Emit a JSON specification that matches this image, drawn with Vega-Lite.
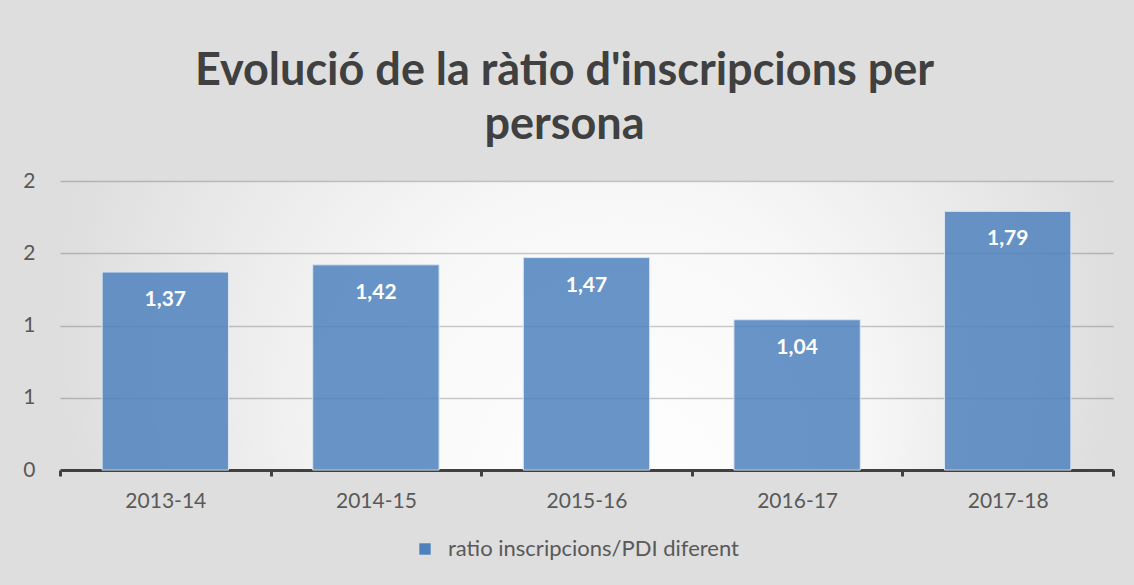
{
  "$schema": "https://vega.github.io/schema/vega-lite/v6.json",
  "width": 1053,
  "height": 289,
  "autosize": {"type": "none"},
  "padding": {"left": 60, "top": 181, "right": 21, "bottom": 115},
  "background": "#dedede",
  "title": {
    "text": ["Evolució de la ràtio d'inscripcions per", "persona"],
    "font": "Lato",
    "fontSize": 45,
    "fontWeight": "bold",
    "color": "#404040",
    "lineHeight": 54,
    "anchor": "middle",
    "frame": "group",
    "baseline": "bottom",
    "offset": 32,
    "dx": -22,
    "dy": 55
  },
  "data": {
    "values": [
      {"curs": "2013-14", "ratio": 1.37, "serie": "ratio inscripcions/PDI diferent"},
      {"curs": "2014-15", "ratio": 1.42, "serie": "ratio inscripcions/PDI diferent"},
      {"curs": "2015-16", "ratio": 1.47, "serie": "ratio inscripcions/PDI diferent"},
      {"curs": "2016-17", "ratio": 1.04, "serie": "ratio inscripcions/PDI diferent"},
      {"curs": "2017-18", "ratio": 1.79, "serie": "ratio inscripcions/PDI diferent"}
    ]
  },
  "encoding": {
    "x": {
      "field": "curs",
      "type": "nominal",
      "sort": null,
      "scale": {"paddingInner": 0, "paddingOuter": 0},
      "axis": {
        "title": null,
        "labelAngle": 0,
        "labelFont": "Lato",
        "labelFontSize": 21,
        "labelColor": "#595959",
        "labelPadding": 14,
        "tickBand": "extent",
        "tickSize": 6,
        "tickWidth": 3,
        "tickColor": "#404040",
        "domainColor": "#404040",
        "domainWidth": 3,
        "grid": false
      }
    },
    "y": {
      "field": "ratio",
      "type": "quantitative",
      "scale": {"domain": [0, 2], "nice": false},
      "axis": {
        "title": null,
        "values": [0, 0.5, 1, 1.5, 2],
        "labelExpr": "'' + round(datum.value)",
        "labelFont": "Lato",
        "labelFontSize": 21,
        "labelColor": "#595959",
        "labelPadding": 25,
        "ticks": false,
        "tickSize": 0,
        "domain": false,
        "grid": true,
        "gridColor": "#000000",
        "gridOpacity": 0.2,
        "gridWidth": 1.5
      }
    }
  },
  "layer": [
    {
      "mark": {"type": "bar", "width": {"band": 0.6}, "fillOpacity": 0.85, "stroke": "#dce6f2", "strokeWidth": 1},
      "encoding": {
        "color": {
          "field": "serie",
          "type": "nominal",
          "scale": {"range": ["#4f81bd"]},
          "legend": {
            "title": null,
            "orient": "none",
            "legendX": 354,
            "legendY": 357,
            "direction": "horizontal",
            "symbolType": "square",
            "symbolSize": 130,
            "symbolStrokeWidth": 0,
            "labelFont": "Lato",
            "labelFontSize": 22,
            "labelColor": "#595959",
            "labelOffset": 12,
            "labelLimit": 500
          }
        }
      }
    },
    {
      "mark": {"type": "text", "font": "Lato", "fontSize": 21, "fontWeight": "bold", "color": "#ffffff", "baseline": "middle", "dy": 28},
      "encoding": {
        "text": {"field": "ratio", "type": "quantitative", "format": ".2f"}
      }
    }
  ],
  "config": {
    "locale": {"number": {"decimal": ",", "thousands": ".", "grouping": [3], "currency": ["", " €"]}},
    "view": {
      "stroke": null,
      "fill": {
        "gradient": "radial",
        "x1": 0.55, "y1": 0.7, "r1": 0,
        "x2": 0.5, "y2": 0.5, "r2": 0.5,
        "stops": [
          {"offset": 0, "color": "#ffffff"},
          {"offset": 0.45, "color": "#f8f8f8"},
          {"offset": 1, "color": "#dedede"}
        ]
      }
    }
  }
}
